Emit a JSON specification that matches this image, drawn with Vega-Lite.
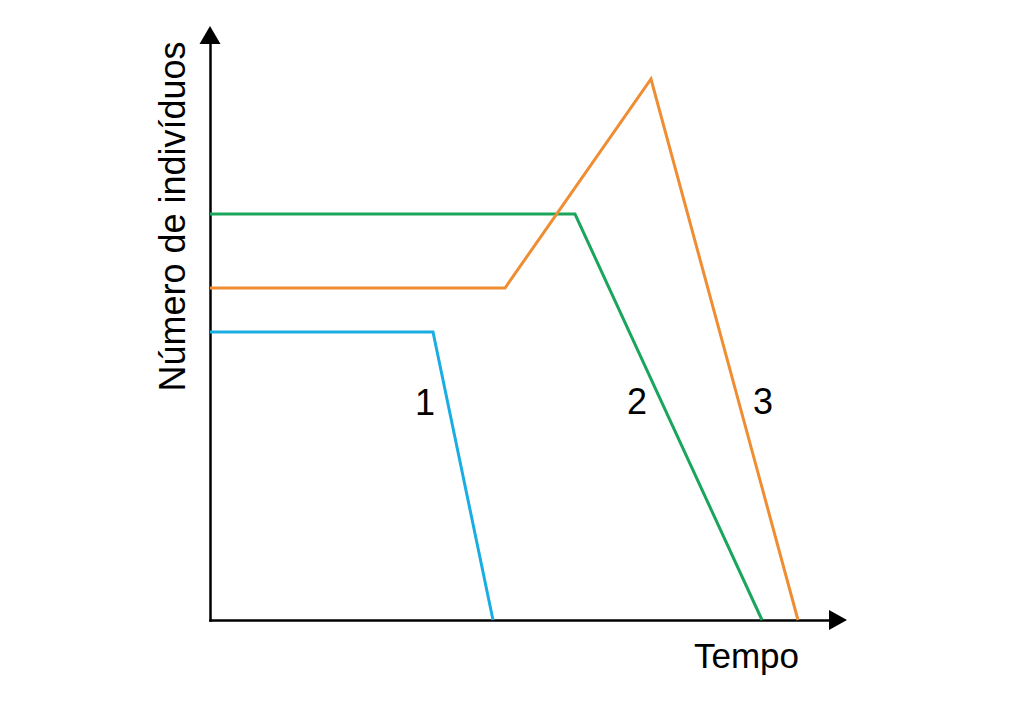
{
  "$schema": "https://vega.github.io/schema/vega-lite/v6.json",
  "width": 625,
  "height": 580,
  "autosize": {"type": "none"},
  "padding": {"left": 210, "top": 40, "right": 175, "bottom": 87},
  "background": "white",
  "config": {"view": {"stroke": null}, "font": "Liberation Sans"},
  "datasets": {
    "curves": [
      {"serie": "1", "tempo": 0, "n": 288},
      {"serie": "1", "tempo": 223, "n": 288},
      {"serie": "1", "tempo": 283, "n": 0},
      {"serie": "2", "tempo": 0, "n": 406},
      {"serie": "2", "tempo": 365, "n": 406},
      {"serie": "2", "tempo": 552, "n": 0},
      {"serie": "3", "tempo": 0, "n": 332},
      {"serie": "3", "tempo": 295, "n": 332},
      {"serie": "3", "tempo": 441, "n": 541},
      {"serie": "3", "tempo": 588, "n": 0}
    ],
    "labels": [
      {"label": "1", "tempo": 215, "n": 205},
      {"label": "2", "tempo": 427, "n": 206},
      {"label": "3", "tempo": 553, "n": 206}
    ],
    "arrows": [
      {"dir": "up", "tempo": 0, "n": 585},
      {"dir": "right", "tempo": 628, "n": 0}
    ]
  },
  "layer": [
    {
      "data": {"name": "curves"},
      "mark": {"type": "line", "strokeWidth": 3},
      "encoding": {
        "x": {
          "field": "tempo",
          "type": "quantitative",
          "scale": {"domain": [0, 625], "nice": false},
          "axis": {
            "domain": true,
            "domainColor": "black",
            "domainWidth": 2.5,
            "domainCap": "square",
            "ticks": false,
            "labels": false,
            "grid": false,
            "title": "Tempo",
            "titleFont": "Liberation Sans",
            "titleFontSize": 35,
            "titleFontWeight": "normal",
            "titleColor": "black",
            "titleX": 536,
            "titleY": 47,
            "titleAlign": "center",
            "titleBaseline": "alphabetic"
          }
        },
        "y": {
          "field": "n",
          "type": "quantitative",
          "scale": {"domain": [0, 580], "nice": false},
          "axis": {
            "domain": true,
            "domainColor": "black",
            "domainWidth": 2.5,
            "domainCap": "square",
            "ticks": false,
            "labels": false,
            "grid": false,
            "title": "Número de indivíduos",
            "titleFont": "Liberation Sans",
            "titleFontSize": 36,
            "titleFontWeight": "normal",
            "titleColor": "black",
            "titleAngle": 270,
            "titleX": -26,
            "titleY": 176,
            "titleAlign": "center",
            "titleBaseline": "alphabetic"
          }
        },
        "color": {
          "field": "serie",
          "type": "nominal",
          "scale": {"domain": ["1", "2", "3"], "range": ["#1aade1", "#19a55c", "#ef8d33"]},
          "legend": null
        }
      }
    },
    {
      "data": {"name": "labels"},
      "mark": {"type": "text", "fontSize": 36, "align": "center", "baseline": "alphabetic", "color": "black"},
      "encoding": {
        "x": {"field": "tempo", "type": "quantitative"},
        "y": {"field": "n", "type": "quantitative"},
        "text": {"field": "label"}
      }
    },
    {
      "data": {"name": "arrows"},
      "mark": {"type": "point", "filled": true, "size": 4, "color": "black", "opacity": 1, "strokeWidth": 0},
      "encoding": {
        "x": {"field": "tempo", "type": "quantitative"},
        "y": {"field": "n", "type": "quantitative"},
        "shape": {
          "field": "dir",
          "type": "nominal",
          "scale": {"domain": ["up", "right"], "range": ["M-10.5,9L0,-9L10.5,9Z", "M-9,-10L9,0L-9,10Z"]},
          "legend": null
        }
      }
    }
  ]
}
